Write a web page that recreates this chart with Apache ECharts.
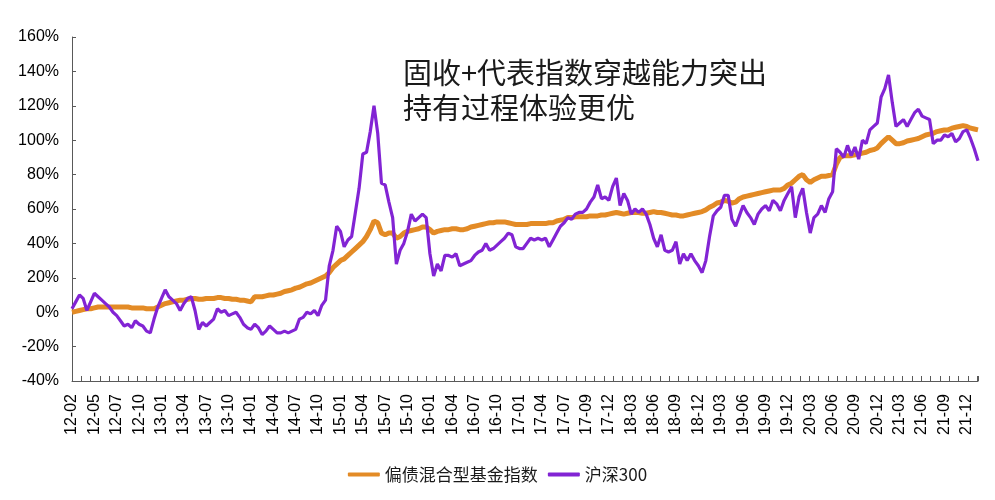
<!DOCTYPE html>
<html>
<head>
<meta charset="utf-8">
<script src="https://cdn.jsdelivr.net/npm/echarts@6/dist/echarts.min.js"></script>
<style>html,body{margin:0;padding:0;background:#fff}#c{width:995px;height:500px}</style>
</head>
<body>
<div id="c"></div>
<script>
// Tick labels (every 6 data points = ~60 trading days)
const tickLabels = ['12-02','12-05','12-07','12-10','13-01','13-04','13-07','13-10','14-01','14-04','14-07','14-10','15-01','15-04','15-07','15-10','16-01','16-04','16-07','16-10','17-01','17-04','17-07','17-09','17-12','18-03','18-06','18-09','18-12','19-03','19-06','19-09','19-12','20-03','20-06','20-09','20-12','21-03','21-06','21-09','21-12'];
const pointsPerLabel = 6;
const seriesNames = ['偏债混合型基金指数', '沪深300'];
// 偏债混合型基金指数 cumulative return (%)
const fundIndex = [
0,0.5,1,1.5,2,2,2.5,3,3,3,3,3,3,3,3,3,2.5,2.5,2.5,2.5,
2,2,2,3,4,5,5.5,6,6.5,7,7,7.5,8,8,7.5,7.5,8,8,8,8.5,
8.5,8,8,7.5,7.5,7,7,6.5,6,9,9,9,9.5,10,10,10.5,11,12,12.5,13,
14,14.5,15.5,16.5,17,18,19,20,21,23,26,28,30,31,33,35,37,39,41,44,
48,53,52,46,45,46,46,43,44,46,47,47.5,48,48.5,49.5,49.5,48,46,47,47.5,
48,48,48.5,48.5,48,48,48.5,49.5,50,50.5,51,51.5,52,52,52.5,52.5,52.5,52,51.5,51,
51,51,51,51.5,51.5,51.5,51.5,51.5,52,52,53,53.5,54,55,55,55.5,55.5,55.5,55.5,56,
56,56,56.5,56.5,57,57.5,58,57.5,57,57.5,58,58,58,57.5,57.5,58,58.5,58,58,57.5,
57,56.5,56.5,56,56,56.5,57,57.5,58,58.5,59.5,61,62,63.5,64,65,64.5,63.5,64,66,
67,67.5,68,68.5,69,69.5,70,70.5,71,71,71,72,74,75,77,79,80,77,75.5,77,
78,79,79,79.5,80,86,90,91,91,91,91.5,92,92.5,93,94,94.5,95.5,98,100,102,
100,98,98,98.5,99.5,100,100.5,101,102,103,103.5,104,105,105.5,106,106,107,107.5,108,108.5,
108,107,106.5,106];
// 沪深300 cumulative return (%)
const hs300 = [
2,6,10,8,1,6,11,9,7,5,3,0,-2,-5,-8,-7,-9,-5,-7,-8,
-11,-12,-4,3,8,13,9,7,5,1,5,8,9,1,-10,-6,-8,-6,-4,2,
0,1,-2,-1,0,-3,-7,-9,-10,-7,-9,-13,-11,-8,-10,-12,-12,-11,-12,-11,
-10,-4,-3,0,-1,1,-2,4,7,27,36,50,47,38,42,44,58,72,92,93,
105,120,104,75,74,64,55,28,36,40,47,57,53,55,57,55,34,21,28,24,
33,33,32,34,27,28,29,30,33,35,36,40,36,37,39,41,43,46,45,38,
37,37,40,43,42,43,42,43,38,42,46,50,52,55,54,57,58,58,60,64,
67,74,66,67,65,73,78,62,69,65,57,60,58,60,57,51,43,38,45,36,
35,36,41,28,34,30,34,30,27,23,30,44,56,59,61,68,68,54,50,56,
62,58,55,51,57,60,62,59,65,63,59,65,69,73,55,67,72,58,46,55,
57,62,58,66,70,95,93,90,97,91,96,89,100,98,106,108,110,125,130,138,
122,108,110,112,108,112,116,118,114,113,112,98,100,100,103,102,104,99,101,105,
106,101,95,88];

// Build category list from tick labels
const categories = [];
for (let i = 0; i < fundIndex.length; i++) {
  const k = Math.floor(i / pointsPerLabel), j = i % pointsPerLabel;
  const base = tickLabels[Math.min(k, tickLabels.length - 1)];
  categories.push(j === 0 && k < tickLabels.length ? base : base + '#' + i);
}

const axisColor = '#595959';
const chart = echarts.init(document.getElementById('c'), null, {renderer: 'canvas'});
chart.setOption({
  animation: false,
  backgroundColor: '#fff',
  title: {
    text: '固收+代表指数穿越能力突出\n持有过程体验更优',
    left: 403, top: 55, padding: 0,
    textStyle: {fontFamily: '"Noto Sans CJK SC", sans-serif', fontSize: 29, fontWeight: 'normal', lineHeight: 35, color: '#1a1a1a'}
  },
  legend: {
    data: seriesNames,
    left: 'center', top: 461,
    icon: 'roundRect', itemWidth: 32, itemHeight: 4, itemGap: 10,
    textStyle: {fontFamily: '"Noto Sans CJK SC", sans-serif', fontSize: 17, color: '#1a1a1a'}
  },
  grid: {left: 72, right: 17, top: 37, bottom: 119, containLabel: false},
  xAxis: [{
    type: 'category', data: categories, boundaryGap: false,
    axisLine: {onZero: false, lineStyle: {color: axisColor, width: 1}},
    axisTick: {show: false},
    axisLabel: {
      interval: pointsPerLabel - 1, rotate: 90, margin: 13,
      fontFamily: '"Liberation Sans", Arial, sans-serif', fontSize: 16, color: '#000',
      formatter: v => v.split('#')[0]
    },
    splitLine: {show: false}
  }, {
    type: 'value', position: 'bottom', min: 0, max: 2427, interval: 25,
    axisLine: {show: false, onZero: false},
    axisTick: {show: true, inside: true, length: 5, lineStyle: {color: axisColor}},
    axisLabel: {show: false},
    splitLine: {show: false}
  }],
  yAxis: {
    type: 'value', min: -40, max: 160, interval: 20,
    axisLine: {show: true, lineStyle: {color: axisColor, width: 1}},
    axisTick: {show: true, inside: true, length: 4, lineStyle: {color: axisColor}},
    axisLabel: {formatter: '{value}%', margin: 13, fontFamily: '"Liberation Sans", Arial, sans-serif', fontSize: 16, color: '#000'},
    splitLine: {show: false}
  },
  series: [{
    name: seriesNames[0], type: 'line', xAxisIndex: 0, data: fundIndex,
    showSymbol: false, symbol: 'none',
    lineStyle: {color: '#E38B26', width: 5},
    itemStyle: {color: '#E38B26'}
  }, {
    name: seriesNames[1], type: 'line', xAxisIndex: 0, data: hs300,
    showSymbol: false, symbol: 'none',
    lineStyle: {color: '#8224D4', width: 3.2},
    itemStyle: {color: '#8224D4'}
  }]
});
</script>
</body>
</html>
